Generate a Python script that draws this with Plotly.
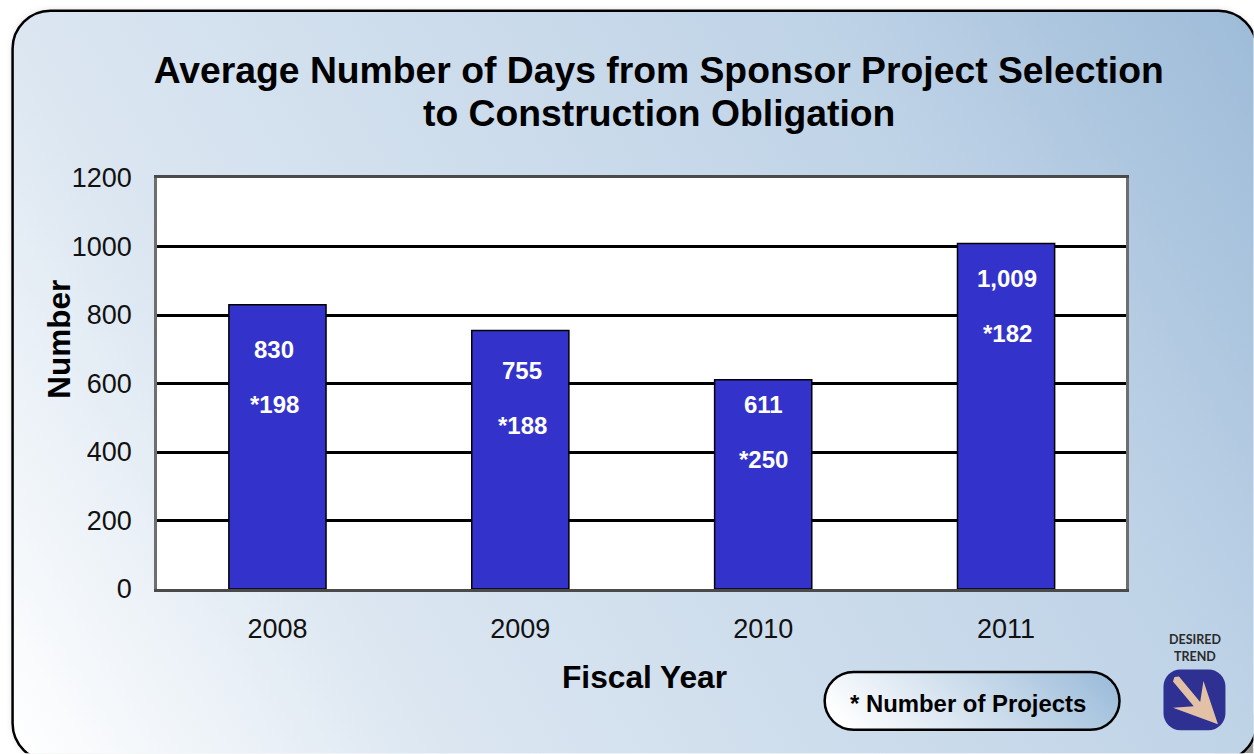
import plotly.graph_objects as go
import urllib.parse

years = ["2008", "2009", "2010", "2011"]
avg_days = [830, 755, 611, 1009]
avg_days_labels = ["830", "755", "611", "1,009"]
project_labels = ["*198", "*188", "*250", "*182"]
y_ticks = [0, 200, 400, 600, 800, 1000, 1200]

# layout constants (page pixels)
W, H = 1254, 754
L, R, T, B = 157, 1126.5, 178, 589.5
PW, PH = R - L, B - T
FONT = "Liberation Sans, Arial, sans-serif"
label_drop = [45, 40, 25, 35]
label_nudge = [-3, 2, 0, 1]


def px(x):
    return (x - L) / PW


def py(y):
    return (B - y) / PH


svg = f'''<svg xmlns="http://www.w3.org/2000/svg" width="{W}" height="{H}" viewBox="0 0 {W} {H}">
<defs>
<linearGradient id="g" gradientUnits="userSpaceOnUse" x1="12" y1="756" x2="1256" y2="10">
<stop offset="0" stop-color="#ffffff"/><stop offset="0.26" stop-color="#dbe6f1"/>
<stop offset="0.74" stop-color="#bfd3e7"/><stop offset="1" stop-color="#9dbbd8"/>
</linearGradient>
<linearGradient id="p" x1="0" y1="0.6" x2="1" y2="0.4">
<stop offset="0" stop-color="#ffffff"/><stop offset="1" stop-color="#9fbedb"/>
</linearGradient>
<filter id="b" x="-5%" y="-5%" width="110%" height="110%"><feGaussianBlur stdDeviation="3"/></filter>
</defs>
<rect x="0" y="0" width="{W}" height="{H}" fill="#ffffff"/>
<rect x="12" y="10" width="1245" height="752" rx="38" ry="38" fill="#000000" opacity="0.14" filter="url(#b)"/>
<rect x="1215" y="715" width="39" height="39" fill="#9a9a9a"/>
<rect x="12.5" y="10.5" width="1244.5" height="751.5" rx="38" ry="38" fill="url(#g)" stroke="#000000" stroke-width="2.5"/>
<rect x="825" y="672.5" width="295" height="58" rx="29" ry="29" fill="url(#p)" stroke="#000000" stroke-width="2.5"/>
</svg>'''
src = "data:image/svg+xml," + urllib.parse.quote(svg)

positions = list(range(len(years)))

fig = go.Figure(
    go.Bar(
        x=positions,
        y=avg_days,
        width=0.4,
        marker=dict(color="#3333cc", line=dict(color="#000000", width=1.5)),
        hovertext=years,
        hoverinfo="text+y",
    )
)

annotations = []


def note(text, x, y, size, bold=True, color="#000000", **kw):
    annotations.append(
        dict(
            text=f"<b>{text}</b>" if bold else text,
            x=x, y=y, showarrow=False,
            font=dict(family=kw.pop("family", FONT), size=size, color=color),
            xanchor="center", yanchor="middle", **kw,
        )
    )


for i, v, a, p_, d, n in zip(positions, avg_days, avg_days_labels, project_labels, label_drop, label_nudge):
    note(a, i, v, 24, color="#ffffff", xref="x", yref="y", yshift=-d, xshift=n)
    note(p_, i, v, 24, color="#ffffff", xref="x", yref="y", yshift=-(d + 55), xshift=n)

note("to Construction Obligation", px(659), py(113), 37.3, xref="paper", yref="paper")
note("Number", px(59), py(340), 31.5, xref="paper", yref="paper", textangle=-90)
note("Fiscal Year", px(645), py(678), 31.7, xref="paper", yref="paper")
note("* Number of Projects", px(968), py(704), 23.9, xref="paper", yref="paper")
note("DESIRED", px(1196), py(640), 12.5, color="#2b2b2b", family="Lato, sans-serif", xref="paper", yref="paper")
note("TREND", px(1196), py(657), 12.5, color="#2b2b2b", family="Lato, sans-serif", xref="paper", yref="paper")


def path(points):
    return "M" + " L".join(f"{px(x):.5f},{py(y):.5f}" for x, y in points) + " Z"


def rrect(x0, y0, x1, y1, r):
    k = r * 0.45
    c = lambda x, y: f"{px(x):.5f},{py(y):.5f}"
    return (
        f"M{c(x0 + r, y0)} L{c(x1 - r, y0)} C{c(x1 - k, y0)} {c(x1, y0 + k)} {c(x1, y0 + r)} "
        f"L{c(x1, y1 - r)} C{c(x1, y1 - k)} {c(x1 - k, y1)} {c(x1 - r, y1)} "
        f"L{c(x0 + r, y1)} C{c(x0 + k, y1)} {c(x0, y1 - k)} {c(x0, y1 - r)} "
        f"L{c(x0, y0 + r)} C{c(x0, y0 + k)} {c(x0 + k, y0)} {c(x0 + r, y0)} Z"
    )


arrow_pts = [
    (1175.0, 677.5), (1179.5, 677.0), (1200.7, 702.7), (1204.0, 681.7), (1218.5, 725.0),
    (1173.5, 708.3), (1194.3, 707.0), (1173.5, 682.0),
]

shapes = [
    dict(type="rect", xref="paper", yref="paper", x0=0, x1=1, y0=0, y1=1,
         fillcolor="#ffffff", line=dict(width=0), layer="below"),
    dict(type="path", xref="paper", yref="paper", path=rrect(1164, 670, 1226, 731, 17),
         fillcolor="#2e3192", line=dict(width=0), layer="above"),
    dict(type="path", xref="paper", yref="paper", path=path(arrow_pts),
         fillcolor="#e3c1a6", line=dict(width=0), layer="above"),
]

fig.update_layout(
    width=W, height=H,
    margin=dict(l=L, r=W - R, t=T, b=H - B, pad=0, autoexpand=False),
    paper_bgcolor="#ffffff",
    plot_bgcolor="#ffffff",
    showlegend=False,
    title=dict(
        text="<b>Average Number of Days from Sponsor Project Selection</b>",
        x=px(659), xref="paper", xanchor="center",
        y=1 - 70 / H, yref="container", yanchor="middle",
        font=dict(family=FONT, size=37.3, color="#000000"),
    ),
    font=dict(family=FONT, color="#111111"),
    annotations=annotations,
    shapes=shapes,
    images=[dict(source=src, xref="paper", yref="paper", x=px(0), y=py(0),
                 sizex=W / PW, sizey=H / PH, sizing="stretch",
                 xanchor="left", yanchor="top", layer="below")],
    xaxis=dict(
        range=[-0.4959, 3.4938], tickmode="array", tickvals=positions, ticktext=years,
        showgrid=False, zeroline=False, ticks="",
        tickfont=dict(size=27), ticklabelstandoff=14,
        showline=True, linecolor="#4a4a4a", linewidth=2.5, mirror=True,
    ),
    yaxis=dict(
        range=[0, 1200], tickmode="array", tickvals=y_ticks, ticks="",
        tickfont=dict(size=27), ticklabelstandoff=17,
        showgrid=True, gridcolor="#000000", gridwidth=3, zeroline=False,
        showline=True, linecolor="#6e6e6e", linewidth=2.5, mirror=True,
    ),
)

fig.write_html(
    "out.html",
    config={"displayModeBar": False},
    post_script="document.body.style.margin='0';document.body.style.overflow='hidden';",
)
